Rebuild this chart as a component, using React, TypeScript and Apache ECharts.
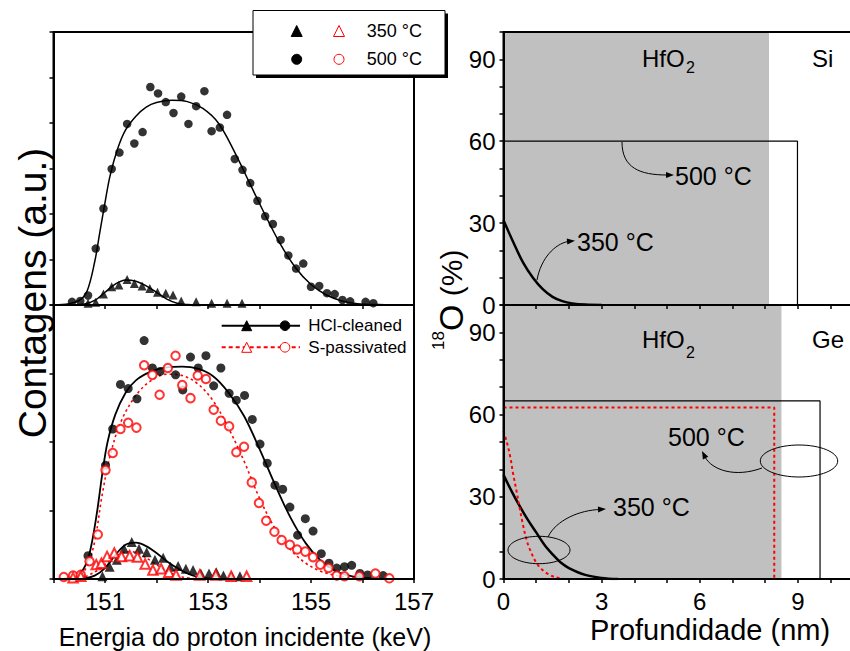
import React, { useEffect, useRef } from 'react';
import * as echarts from 'echarts';

const FONT = '"Liberation Sans", Arial, Helvetica, sans-serif';

// ---------- Left top panel (Si) : counts, a.u. ----------
const top500Pts = [
  [150.36, 0.07], [150.52, 0.09], [150.67, 0.21], [150.82, 1.24], [150.97, 2.12], [151.13, 2.99], [151.28, 3.35],
  [151.43, 3.98], [151.57, 3.55], [151.73, 3.8], [151.88, 4.79], [152.03, 4.65], [152.18, 4.46], [152.33, 4.22],
  [152.48, 4.58], [152.62, 3.98], [152.77, 4.37], [152.93, 4.7], [153.07, 3.82], [153.23, 3.9], [153.37, 4.18],
  [153.52, 3.21], [153.67, 2.97], [153.82, 2.68], [153.96, 2.29], [154.11, 1.95], [154.26, 1.78], [154.41, 1.43],
  [154.56, 1.09], [154.71, 0.8], [154.85, 0.91], [155.0, 0.4], [155.16, 0.42], [155.31, 0.26], [155.46, 0.24],
  [155.61, 0.11], [155.76, 0.08], [156.06, 0.07], [156.21, 0.04],
];
const top350Pts = [
  [150.67, 0.04], [150.82, 0.06], [150.97, 0.24], [151.13, 0.4], [151.27, 0.44], [151.43, 0.56], [151.57, 0.47],
  [151.72, 0.42], [151.87, 0.36], [152.02, 0.28], [152.18, 0.26], [152.32, 0.22], [152.48, 0.09], [152.77, 0.07],
  [153.07, 0.04], [153.37, 0.04], [153.66, 0.04],
];
const top500Fit = [
  [150, 0], [150.3, 0.03], [150.5, 0.1], [150.65, 0.3], [150.8, 0.95], [150.9, 1.6], [151.0, 2.25], [151.1, 2.85],
  [151.25, 3.45], [151.4, 3.85], [151.6, 4.15], [151.8, 4.35], [152.0, 4.45], [152.3, 4.5], [152.6, 4.47],
  [152.9, 4.32], [153.2, 4.0], [153.5, 3.4], [153.8, 2.7], [154.1, 2.0], [154.4, 1.35], [154.7, 0.82],
  [155.0, 0.45], [155.3, 0.22], [155.6, 0.09], [155.9, 0.03], [156.3, 0.01], [157, 0],
];
const top350Fit = [
  [150.4, 0], [150.6, 0.02], [150.8, 0.1], [151.0, 0.28], [151.2, 0.46], [151.4, 0.55], [151.6, 0.52],
  [151.8, 0.42], [152.0, 0.28], [152.2, 0.13], [152.4, 0.04], [152.6, 0.01], [152.8, 0],
];

// ---------- Left bottom panel (Ge) ----------
const hcl500Pts = [
  [150.53, 0.04], [150.67, 0.34], [151.01, 1.66], [151.15, 2.19], [151.3, 2.84], [151.45, 2.78], [151.62, 2.63],
  [151.76, 3.48], [151.92, 3.08], [152.07, 3.03], [152.37, 2.98], [152.51, 2.76], [152.66, 3.24], [152.81, 3.08],
  [152.96, 3.26], [153.11, 2.82], [153.25, 3.08], [153.41, 2.71], [153.55, 2.61], [153.71, 2.68], [153.86, 2.33],
  [154.01, 1.97], [154.15, 1.69], [154.3, 1.37], [154.45, 1.31], [154.59, 1.05], [154.74, 0.64], [154.89, 0.88],
  [155.04, 0.7], [155.2, 0.37], [155.35, 0.23], [155.5, 0.16], [155.65, 0.18], [155.79, 0.2], [155.95, 0.08],
  [156.1, 0.06], [156.4, 0.05],
];
const hcl350Pts = [
  [150.95, 0.04], [151.09, 0.18], [151.23, 0.28], [151.37, 0.44], [151.52, 0.54], [151.66, 0.44], [151.81, 0.39],
  [151.97, 0.28], [152.13, 0.31], [152.27, 0.18], [152.42, 0.19], [152.57, 0.15], [152.71, 0.13], [152.86, 0.08],
  [153.02, 0.08], [153.16, 0.1], [153.3, 0.05], [153.46, 0.04], [153.62, 0.04],
];
const sp500Pts = [
  [150.2, 0.03], [150.38, 0.05], [150.53, 0.06], [150.7, 0.26], [150.86, 0.65], [151.01, 1.59], [151.15, 1.84],
  [151.3, 2.19], [151.45, 2.28], [151.61, 2.21], [151.76, 3.12], [151.92, 2.98], [152.06, 2.69], [152.22, 3.08],
  [152.37, 3.26], [152.5, 2.83], [152.66, 2.64], [152.8, 2.97], [152.96, 2.92], [153.11, 2.47], [153.25, 2.31],
  [153.41, 2.23], [153.55, 1.85], [153.7, 1.93], [153.85, 1.41], [153.99, 1.11], [154.13, 0.85], [154.29, 0.69],
  [154.43, 0.57], [154.59, 0.5], [154.73, 0.43], [154.89, 0.4], [155.04, 0.32], [155.18, 0.21], [155.34, 0.16],
  [155.5, 0.05], [155.65, 0.04], [155.94, 0.04], [156.25, 0.08], [156.52, 0.01],
];
const sp350Pts = [
  [150.38, 0.02], [150.53, 0.04], [150.83, 0.21], [150.93, 0.23], [151.04, 0.33], [151.18, 0.38], [151.32, 0.33],
  [151.48, 0.34], [151.63, 0.32], [151.78, 0.22], [151.93, 0.13], [152.09, 0.15], [152.24, 0.1], [152.38, 0.06],
  [152.84, 0.06], [153.15, 0.06], [153.45, 0.04], [153.75, 0.04],
];
const hcl500Fit = [
  [150, 0], [150.3, 0.01], [150.5, 0.07], [150.65, 0.25], [150.75, 0.55], [150.85, 1.0], [150.95, 1.55],
  [151.05, 2.0], [151.2, 2.4], [151.4, 2.72], [151.6, 2.9], [151.9, 3.03], [152.2, 3.09], [152.5, 3.1],
  [152.8, 3.07], [153.1, 2.96], [153.4, 2.72], [153.7, 2.38], [154.0, 1.9], [154.3, 1.38], [154.6, 0.9],
  [154.9, 0.52], [155.2, 0.26], [155.5, 0.11], [155.8, 0.04], [156.2, 0.01], [156.6, 0], [157, 0],
];
const hcl350Fit = [
  [150.3, 0], [150.6, 0.01], [150.8, 0.05], [151.0, 0.16], [151.2, 0.35], [151.4, 0.5], [151.6, 0.53],
  [151.8, 0.48], [152.0, 0.38], [152.2, 0.26], [152.4, 0.16], [152.6, 0.08], [152.8, 0.03], [153.0, 0.01], [153.4, 0],
];
const sp500Fit = [
  [150, 0], [150.3, 0.02], [150.5, 0.06], [150.65, 0.18], [150.8, 0.55], [150.95, 1.25], [151.1, 1.8],
  [151.3, 2.28], [151.6, 2.68], [151.9, 2.9], [152.2, 2.99], [152.5, 2.97], [152.8, 2.85], [153.1, 2.6],
  [153.4, 2.2], [153.7, 1.72], [154.0, 1.18], [154.3, 0.74], [154.6, 0.43], [154.9, 0.23], [155.2, 0.11],
  [155.5, 0.05], [155.8, 0.02], [156.2, 0], [157, 0],
];
const sp350Fit = [
  [150.3, 0], [150.6, 0.03], [150.9, 0.15], [151.1, 0.28], [151.3, 0.37], [151.5, 0.4], [151.7, 0.35],
  [151.9, 0.26], [152.1, 0.16], [152.3, 0.08], [152.5, 0.03], [152.8, 0],
];

// ---------- Right panels: 18O (%) vs depth (nm) ----------
const siHfO2Layer = [0, 8.12];
const geHfO2Layer = [0, 8.5];
const si500Profile = [[0, 60], [8.99, 60], [8.99, 0]];
const si350Profile = [[0, 31], [0.3, 23], [0.6, 15.5], [0.9, 10], [1.2, 5.8], [1.5, 3], [1.8, 1.4], [2.1, 0.6], [2.5, 0.15], [3, 0]];
const geHcl500Profile = [[0, 65], [9.68, 65], [9.68, 0]];
const geSp500Profile = [[0, 62.6], [8.28, 62.6], [8.28, 0]];
const geHcl350Profile = [[0, 38], [0.25, 32], [0.5, 26.5], [0.75, 21.5], [1, 17], [1.25, 12.5], [1.5, 9], [1.75, 6], [2, 4], [2.5, 1.5], [3, 0.4], [3.5, 0]];
const geSp350Profile = [[0, 54], [0.1, 50], [0.2, 45], [0.3, 38], [0.4, 32], [0.5, 25.5], [0.6, 19.5], [0.7, 14.5], [0.8, 11], [1.0, 6], [1.2, 3.2], [1.4, 1.6], [1.6, 0.6], [1.9, 0]];

const RED = '#ff0000';

function axisBase(gridIndex: number) {
  return {
    gridIndex,
    type: 'value' as const,
    z: 4,
    axisLine: { show: true, onZero: false, lineStyle: { color: '#000', width: 2 } },
    axisTick: { show: true, inside: false, length: 4, lineStyle: { color: '#000', width: 1.5 } },
    splitLine: { show: false },
  };
}

function scatter(data: number[][], g: number, symbol: string, size: number, color: string) {
  return {
    type: 'scatter', xAxisIndex: g, yAxisIndex: g, data, symbol, symbolSize: size, z: 3,
    itemStyle: { color, borderColor: color, borderWidth: symbol.startsWith('empty') ? 1 : 0 },
    silent: true,
  };
}
function curve(data: number[][], g: number, color: string, width: number, type: any, smooth: boolean) {
  return {
    type: 'line', xAxisIndex: g, yAxisIndex: g, data, showSymbol: false, symbol: 'none', smooth: smooth ? 0.35 : false,
    lineStyle: { color, width, type }, z: 2, silent: true,
  };
}
function grayLayer(g: number, layer: number[]) {
  return {
    type: 'line', xAxisIndex: g, yAxisIndex: g, data: [[0, 0]], symbol: 'none', lineStyle: { opacity: 0 }, z: 1, silent: true,
    markArea: { silent: true, itemStyle: { color: '#c0c0c0', opacity: 1 }, data: [[{ xAxis: layer[0] }, { xAxis: layer[1] }]] },
  };
}
function txt(text: string, x: number, y: number, fontSize: number, align = 'left', extra: any = {}) {
  return {
    type: 'text', x, y, z: 10, ...extra,
    style: { text, fontSize, fontFamily: FONT, fill: '#000', align, verticalAlign: 'middle', ...(extra.style || {}) },
  };
}
function arrowHead(tx: number, ty: number, ang: number) {
  const L = 8, W = 3;
  const bx = tx - L * Math.cos(ang), by = ty - L * Math.sin(ang);
  const px = -Math.sin(ang) * W, py = Math.cos(ang) * W;
  return { type: 'polygon', z: 10, shape: { points: [[tx, ty], [bx + px, by + py], [bx - px, by - py]] }, style: { fill: '#000' } };
}
function bez(x1: number, y1: number, c1x: number, c1y: number, c2x: number, c2y: number, x2: number, y2: number) {
  return { type: 'bezierCurve', z: 10, shape: { x1, y1, cpx1: c1x, cpy1: c1y, cpx2: c2x, cpy2: c2y, x2, y2 }, style: { stroke: '#000', lineWidth: 1, fill: null } };
}
function tri(cx: number, cy: number, s: number, fill: string, stroke: string) {
  return { type: 'polygon', z: 11, shape: { points: [[cx, cy - s / 2], [cx + s / 2, cy + s / 2], [cx - s / 2, cy + s / 2]] }, style: { fill, stroke, lineWidth: 1 } };
}
function circ(cx: number, cy: number, r: number, fill: string, stroke: string) {
  return { type: 'circle', z: 11, shape: { cx, cy, r }, style: { fill, stroke, lineWidth: 1 } };
}

export default function App() {
  const ref = useRef<HTMLDivElement>(null);
  useEffect(() => {
    document.body.style.margin = '0';
    const chart = echarts.init(ref.current!, null, { renderer: 'svg' });
    const gridBase = { show: true, borderColor: '#000', borderWidth: 2, backgroundColor: 'transparent', z: 4 };
    const labelStyle = { color: '#000', fontSize: 24, fontFamily: FONT };
    const option: any = {
      animation: false,
      textStyle: { fontFamily: FONT },
      grid: [
        { ...gridBase, left: 53.5, top: 32, width: 360.5, height: 273 },
        { ...gridBase, left: 53.5, top: 305, width: 360.5, height: 274 },
        { ...gridBase, left: 503.5, top: 32, width: 359.7, height: 273 },
        { ...gridBase, left: 503.5, top: 305, width: 359.7, height: 274 },
      ],
      xAxis: [
        { ...axisBase(0), min: 150, max: 157, interval: 1, axisLabel: { show: false } },
        {
          ...axisBase(1), min: 150, max: 157, interval: 1,
          axisLabel: { ...labelStyle, margin: 10, formatter: (v: number) => (Math.round(v) % 2 === 1 ? String(v) : '') },
        },
        { ...axisBase(2), min: 0, max: 11, interval: 1, axisLabel: { show: false } },
        {
          ...axisBase(3), min: 0, max: 11, interval: 1,
          axisLabel: { ...labelStyle, margin: 10, formatter: (v: number) => (Math.round(v) % 3 === 0 ? String(v) : '') },
        },
      ],
      yAxis: [
        { ...axisBase(0), min: 0, max: 6, interval: 1, axisLabel: { show: false } },
        { ...axisBase(1), min: 0, max: 4, interval: 1, axisLabel: { show: false } },
        {
          ...axisBase(2), min: 0, max: 100, interval: 10,
          axisLabel: { ...labelStyle, margin: 8, formatter: (v: number) => (v % 30 === 0 ? String(v) : '') },
        },
        {
          ...axisBase(3), min: 0, max: 100, interval: 10,
          axisLabel: { ...labelStyle, margin: 8, formatter: (v: number) => (v % 30 === 0 ? String(v) : '') },
        },
      ],
      series: [
        // left top
        curve(top500Fit, 0, '#000', 1.5, 'solid', true),
        curve(top350Fit, 0, '#000', 1.5, 'solid', true),
        scatter(top500Pts, 0, 'circle', 8.5, '#000'),
        scatter(top350Pts, 0, 'triangle', 9, '#000'),
        // left bottom
        curve(hcl500Fit, 1, '#000', 1.8, 'solid', true),
        curve(hcl350Fit, 1, '#000', 1.8, 'solid', true),
        curve(sp500Fit, 1, RED, 1.6, [2.5, 3], true),
        curve(sp350Fit, 1, RED, 1.6, [2.5, 3], true),
        scatter(hcl500Pts, 1, 'circle', 9, '#000'),
        scatter(hcl350Pts, 1, 'triangle', 10, '#000'),
        scatter(sp500Pts, 1, 'emptyCircle', 8.5, RED),
        scatter(sp350Pts, 1, 'emptyTriangle', 9.5, RED),
        // right top
        grayLayer(2, siHfO2Layer),
        curve(si500Profile, 2, '#000', 1.2, 'solid', false),
        curve(si350Profile, 2, '#000', 2.5, 'solid', true),
        // right bottom
        grayLayer(3, geHfO2Layer),
        curve(geHcl500Profile, 3, '#000', 1.2, 'solid', false),
        curve(geSp500Profile, 3, RED, 2, [3, 3], false),
        curve(geHcl350Profile, 3, '#000', 2.5, 'solid', true),
        curve(geSp350Profile, 3, RED, 2, [3, 3], true),
      ],
      graphic: [
        // axis titles
        txt('Contagens (a.u.)', 32, 293, 39, 'center', { rotation: Math.PI / 2 }),
        txt('Energia do proton incidente (keV)', 245, 637, 25, 'center'),
        txt('Profundidade (nm)', 710, 630, 29, 'center'),
        {
          type: 'text', x: 451, y: 331, z: 10, rotation: Math.PI / 2,
          style: {
            text: '{o|O}{p| (%)}', align: 'left', verticalAlign: 'middle', fill: '#000',
            rich: { o: { fontSize: 34, fontFamily: FONT, fill: '#000' }, p: { fontSize: 30, fontFamily: FONT, fill: '#000' } },
          },
        },
        txt('18', 438, 350, 17, 'left', { rotation: Math.PI / 2 }),
        // region labels
        txt('HfO', 642, 58, 24), txt('2', 686, 67, 16), txt('Si', 812, 58, 24),
        txt('HfO', 642, 339, 24), txt('2', 686, 352, 16), txt('Ge', 812, 339, 24),
        // annotations top
        txt('500 °C', 675, 176, 25), txt('350 °C', 577, 242, 25),
        bez(622, 142, 622, 168, 640, 175, 667, 175), arrowHead(674, 175, 0),
        bez(537, 280, 541, 258, 555, 244, 568, 241.5), arrowHead(575, 240.7, -0.1),
        // annotations bottom
        txt('500 °C', 668, 437, 25), txt('350 °C', 613, 507, 25),
        { type: 'ellipse', z: 10, shape: { cx: 539, cy: 550, rx: 31, ry: 13.7 }, style: { fill: null, stroke: '#000', lineWidth: 1 } },
        { type: 'ellipse', z: 10, shape: { cx: 799, cy: 461, rx: 38.7, ry: 16 }, style: { fill: null, stroke: '#000', lineWidth: 1 } },
        bez(548, 537, 556, 520, 580, 510, 600, 509.5), arrowHead(606, 509, -0.05),
        bez(762, 468, 735, 478, 712, 470, 705, 457), arrowHead(702, 451, Math.atan2(-6, -3)),
        // legend top-left
        { type: 'rect', z: 10, shape: { x: 256, y: 13.5, width: 192, height: 64.5 }, style: { fill: '#000' } },
        { type: 'rect', z: 10, shape: { x: 253, y: 10.5, width: 192, height: 64.5 }, style: { fill: '#fff', stroke: '#000', lineWidth: 1 } },
        tri(296.7, 31, 11, '#000', '#000'), tri(339, 31, 11, '#fff', RED),
        circ(296.7, 59.3, 5, '#000', '#000'), circ(339, 59.3, 5, '#fff', RED),
        { ...txt('350 °C', 366.7, 31, 18), z: 11 }, { ...txt('500 °C', 366.7, 59.3, 18), z: 11 },
        // legend bottom-left
        { type: 'line', z: 10, shape: { x1: 221.7, y1: 325.7, x2: 300, y2: 325.7 }, style: { stroke: '#000', lineWidth: 2 } },
        tri(246.7, 325.7, 10, '#000', '#000'), circ(285, 325.7, 4.8, '#000', '#000'),
        { type: 'line', z: 10, shape: { x1: 221.7, y1: 347.3, x2: 300, y2: 347.3 }, style: { stroke: RED, lineWidth: 2, lineDash: [4, 3] } },
        tri(246.7, 347.3, 10, '#fff', RED), circ(285, 347.3, 4.8, '#fff', RED),
        txt('HCl-cleaned', 308.3, 325.7, 17), txt('S-passivated', 308.3, 347.3, 17),
      ],
    };
    chart.setOption(option);
    return () => chart.dispose();
  }, []);
  return (
    <div style={{ width: 850, height: 651, overflow: 'hidden', position: 'relative' }}>
      <div ref={ref} style={{ width: 880, height: 651 }} />
    </div>
  );
}
